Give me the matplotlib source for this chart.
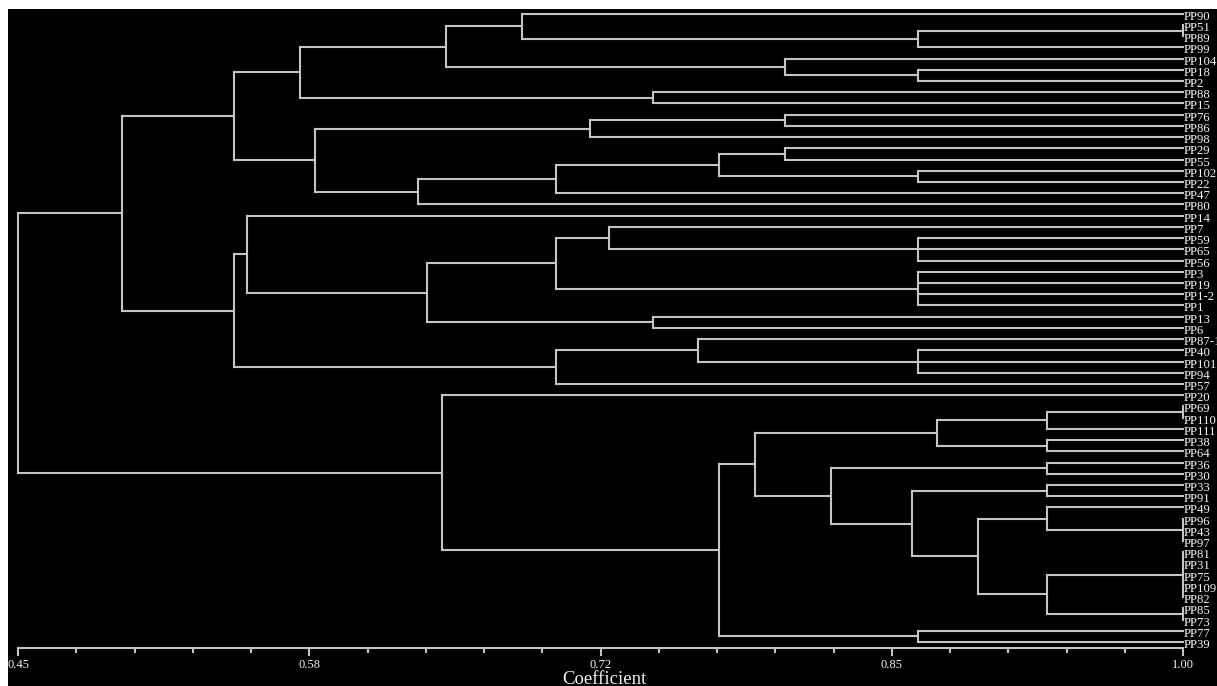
import matplotlib
matplotlib.use('Agg')
import matplotlib.pyplot as plt
from matplotlib.collections import LineCollection
from matplotlib.patches import Rectangle
import matplotlib.transforms as mtransforms

# ---------------- data ----------------
leaves = ['PP90', 'PP51', 'PP89', 'PP99', 'PP104', 'PP18', 'PP2', 'PP88', 'PP15',
          'PP76', 'PP86', 'PP98', 'PP29', 'PP55', 'PP102', 'PP22', 'PP47', 'PP80',
          'PP14', 'PP7', 'PP59', 'PP65', 'PP56', 'PP3', 'PP19', 'PP1-2', 'PP1',
          'PP13', 'PP6', 'PP87-1', 'PP40', 'PP101', 'PP94', 'PP57', 'PP20', 'PP69',
          'PP110', 'PP111', 'PP38', 'PP64', 'PP36', 'PP30', 'PP33', 'PP91', 'PP49',
          'PP96', 'PP43', 'PP97', 'PP81', 'PP31', 'PP75', 'PP109', 'PP82', 'PP85',
          'PP73', 'PP77', 'PP39']

node_names = ['n1', 'n2', 'n3', 'n4', 'n5', 'n6', 'n7', 'n8', 'n9', 'n10',
              'n11', 'n12', 'n13', 'n14', 'n15', 'n16', 'n17', 'n18', 'n19', 'n20',
              'n21', 'n22', 'n23', 'n24', 'n25', 'n26', 'n27', 'n28', 'n29', 'n30',
              'n31', 'n32', 'n33', 'n34', 'n35', 'n36', 'n37', 'n38', 'n39', 'n40',
              'n41', 'n42', 'n43', 'n44', 'n45', 'n46', 'n47', 'root']

node_children = [
    ['PP51', 'PP89'], ['n1', 'PP99'], ['PP90', 'n2'], ['PP18', 'PP2'], ['PP104', 'n4'],
    ['n3', 'n5'], ['PP88', 'PP15'], ['n6', 'n7'], ['PP76', 'PP86'], ['n9', 'PP98'],
    ['PP29', 'PP55'], ['PP102', 'PP22'], ['n11', 'n12'], ['n13', 'PP47'], ['n14', 'PP80'],
    ['n10', 'n15'], ['n8', 'n16'], ['PP59', 'PP65', 'PP56'], ['PP7', 'n18'],
    ['PP3', 'PP19', 'PP1-2', 'PP1'], ['n19', 'n20'], ['PP13', 'PP6'], ['n21', 'n22'],
    ['PP14', 'n23'], ['PP40', 'PP101', 'PP94'], ['PP87-1', 'n25'], ['n26', 'PP57'],
    ['n24', 'n27'], ['n17', 'n28'], ['PP69', 'PP110'], ['n30', 'PP111'], ['PP38', 'PP64'],
    ['n31', 'n32'], ['PP36', 'PP30'], ['PP33', 'PP91'], ['PP96', 'PP43', 'PP97'],
    ['PP49', 'n36'], ['PP81', 'PP31', 'PP75', 'PP109', 'PP82'], ['PP85', 'PP73'],
    ['n38', 'n39'], ['n37', 'n40'], ['n35', 'n41'], ['n34', 'n42'], ['n33', 'n43'],
    ['PP77', 'PP39'], ['n44', 'n45'], ['PP20', 'n46'], ['n29', 'n47']]

node_coef = [1.00, 0.875, 0.688, 0.875, 0.812, 0.652, 0.750, 0.583, 0.812, 0.720,
             0.812, 0.875, 0.781, 0.704, 0.639, 0.590, 0.552, 0.875, 0.729, 0.875,
             0.704, 0.750, 0.643, 0.558, 0.875, 0.771, 0.704, 0.552, 0.499, 1.00,
             0.936, 0.936, 0.884, 0.936, 0.936, 1.00, 0.936, 1.00, 1.00, 0.936,
             0.903, 0.872, 0.834, 0.798, 0.875, 0.781, 0.650, 0.45]

major_ticks = [0.45, 0.5875, 0.725, 0.8625, 1.00]
major_labels = ['0.45', '0.58', '0.72', '0.85', '1.00']
minor_ticks = [0.45 + 0.0275 * k for k in range(21)]
x_label = 'Coefficient'

# ---------------- layout ----------------
W, H = 1217, 686
LINE = '#C4C4C4'
TEXT = '#F2F2F2'
SERIF = ['Liberation Serif', 'DejaVu Serif']

fig = plt.figure(figsize=(W / 100, H / 100), dpi=100, facecolor='white')
bg = Rectangle((8 / W, 0), 1 - 8 / W, (H - 9) / H, transform=fig.transFigure,
               facecolor='black', edgecolor='none', zorder=-10)
fig.patches.append(bg)
ax = fig.add_axes([0, 0, 1, 1])
ax.set_zorder(5)
ax.set_facecolor('none')
ax.patch.set_alpha(0)

px_per_unit = 1165 / 0.55
ax.set_xlim(0.45 - 18 / px_per_unit, 1.0 + (W - 1183) / px_per_unit)
row_px, top_px = 11.22, 13.7
ax.set_ylim((H - top_px) / row_px, -top_px / row_px)

# ---------------- tree ----------------
pos = {name: (1.0, i) for i, name in enumerate(leaves)}
segs = []
for name, ch, c in zip(node_names, node_children, node_coef):
    ys = [pos[k][1] for k in ch]
    y = (min(ys) + max(ys)) / 2
    segs.append([(c, min(ys)), (c, max(ys))])
    for k in ch:
        segs.append([(pos[k][0], pos[k][1]), (c, pos[k][1])])
    pos[name] = (c, y)

lc = LineCollection(segs, colors=LINE, linewidths=1.5, capstyle='projecting')
ax.add_collection(lc)

lab_tr = mtransforms.offset_copy(ax.transData, fig=fig, x=0.5, y=-6, units='dots')
for i, name in enumerate(leaves):
    ax.text(1.0, i, name, transform=lab_tr, ha='left', va='baseline',
            fontsize=9.2, color=TEXT, family=SERIF)

# ---------------- axis ----------------
for s in ['left', 'right', 'top']:
    ax.spines[s].set_visible(False)
axis_y = (648 - top_px) / row_px
ax.spines['bottom'].set_position(('data', axis_y))
ax.spines['bottom'].set_bounds(0.45, 1.0)
ax.spines['bottom'].set_color(LINE)
ax.spines['bottom'].set_linewidth(1.5)
ax.set_yticks([])
ax.set_xticks(minor_ticks, minor=True)
ax.set_xticks(major_ticks)
ax.set_xticklabels(major_labels, fontfamily=SERIF)
ax.tick_params(axis='x', which='major', length=5.8, width=1.5, color=LINE,
               labelcolor=TEXT, labelsize=9, pad=2.2, direction='out')
ax.tick_params(axis='x', which='minor', length=3.6, width=1.5, color=LINE,
               direction='out')

ax.text((0.45 + 1.0) / 2 + 4 / px_per_unit, (684 - top_px) / row_px, x_label,
        ha='center', va='baseline', fontsize=13.5, color=TEXT, family=SERIF)

fig.savefig('out.png', dpi=100, facecolor='white')
